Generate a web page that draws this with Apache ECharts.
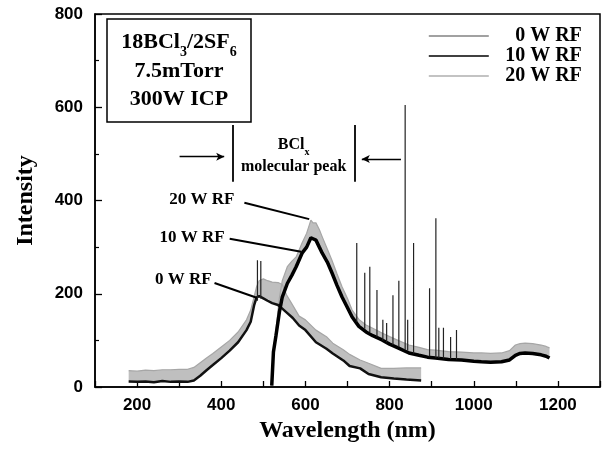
<!DOCTYPE html>
<html><head><meta charset="utf-8">
<script src="https://cdn.jsdelivr.net/npm/echarts@6/dist/echarts.min.js"></script>
<style>html,body{margin:0;padding:0;background:#fff}#c{width:603px;height:450px}</style>
</head><body><div id="c"></div>
<script>
// ---- data ----
const xTickLabels = [200, 400, 600, 800, 1000, 1200];
const yTickLabels = [0, 200, 400, 600, 800];
const legendNames = ['0 W RF', '10 W RF', '20 W RF'];

// first (short-wavelength) hump
const humpWl  = [180,200,220,240,260,280,300,320,335,350,365,380,400,420,440,460,470,478,484,490,500,510,521,535,545,555,570,585,600,625,650,665,690,705,730,750,780,810,840,875];
const humpLow = [12,11,12,10,13,11,12,11,14,24,36,47,62,78,96,122,140,175,192,195,190,185,180,176,168,160,148,132,122,96,82,72,57,45,40,28,21,18,16,14];
const humpTop = [35,34,36,35,37,37,38,38,42,52,62,72,86,100,118,144,165,193,215,228,232,228,225,224,220,198,175,152,144,122,108,94,80,70,58,51,40,40,41,41];
const humpLineWl   = [486, 494];
const humpLineBase = [185, 190];
const humpLinePeak = [272, 270];

// main BClx molecular band
const mainWl  = [520,524,530,538,545,557,568,578,592,603,613,618,625,633,640,652,663,675,687,700,711,727,744,760,782,800,820,846,870,890,909,940,971,1000,1018,1040,1066,1085,1099,1110,1122,1140,1160,1172,1180];
const mainLow = [3,75,110,160,193,222,240,258,287,300,320,318,315,300,287,268,245,218,193,170,150,130,118,110,101,92,84,73,68,64,62,59,58,55,54,53,54,58,68,72,73,72,69,66,62];
const mainTop = [3,78,122,190,228,258,270,279,309,330,358,352,352,338,322,296,272,243,215,190,165,145,133,126,116,108,100,90,85,80,79,76,75,73,73,72,73,78,90,93,94,93,90,87,84];

// atomic emission lines
const lineWl   = [722,741,753,770,784,793,808,822,837,843,857,895,910,917,928,945,959];
const lineBase = [140,125,118,108,100,96,90,86,80,78,72,66,63,62,61,60,59];
const linePeak = [309,245,258,208,144,137,197,228,605,144,309,212,362,127,127,107,122];

// ---- annotation layout (data-space anchors) ----
const notes = {
  bracket: [[427, 440, 427, 562], [718, 440, 718, 562]],
  arrows:  [[301, 494, 407, 494], [827, 489, 734, 489]],
  leaders: [[455, 395, 609, 360], [420, 318, 590, 290], [384, 223, 486, 191]],
  labels:  [['20 W RF', 431, 401], ['10 W RF', 408, 320], ['0 W RF', 377, 230]],
  bclx: [572, 519],
  molpeak: [572, 472]
};

const serif = "'Liberation Serif','Times New Roman',serif";
const sans = "'Liberation Sans',Arial,sans-serif";
const gray = '#bfbfbf';
const pair = (xs, ys) => xs.map((x, i) => [x, ys[i]]);
function spikes(wl, base, peak) {
  const out = [];
  wl.forEach((w, i) => { out.push([w, base[i]], [w, peak[i]], [w, base[i]], [w, null]); });
  return out;
}
function bandSeries(wl, lo, hi) {
  return {
    type: 'custom', name: 'band', silent: true, z: 2, clip: true,
    data: wl.map((w, i) => [w, lo[i], hi[i]]),
    encode: {x: 0, y: [1, 2]},
    renderItem: function (params, api) {
      if (params.dataIndex !== 0) return null;
      const pts = [];
      for (let i = 0; i < wl.length; i++) pts.push(api.coord([wl[i], hi[i]]));
      for (let i = wl.length - 1; i >= 0; i--) pts.push(api.coord([wl[i], lo[i]]));
      return {type: 'polygon', shape: {points: pts}, style: {fill: gray, stroke: null}};
    }
  };
}

const markData = [];
notes.bracket.forEach(b => markData.push([{coord: [b[0], b[1]]}, {coord: [b[2], b[3]]}]));
notes.leaders.forEach(b => markData.push([{coord: [b[0], b[1]], lineStyle: {width: 2}}, {coord: [b[2], b[3]]}]));
notes.arrows.forEach(b => markData.push([{coord: [b[0], b[1]], lineStyle: {width: 1.3}}, {coord: [b[2], b[3]], symbol: 'arrow', symbolSize: [6, 8]}]));

const chart = echarts.init(document.getElementById('c'), null, {renderer: 'canvas'});
chart.setOption({
  animation: false,
  backgroundColor: '#fff',
  grid: {left: 95, right: 1, top: 14, bottom: 63, show: true, borderColor: '#000', borderWidth: 1.5},
  legend: {
    orient: 'vertical', left: 423, top: 21, itemWidth: 60, itemHeight: 14, itemGap: 0,
    selectedMode: false,
    lineStyle: {width: 1.5},
    itemStyle: {opacity: 0},
    formatter: '{a|{name}}',
    textStyle: {rich: {a: {width: 88, align: 'right', fontSize: 20, fontWeight: 'bold', fontFamily: serif, color: '#000', lineHeight: 25}}},
    data: [
      {name: legendNames[0], lineStyle: {color: '#444', width: 1.2}, itemStyle: {opacity: 0}},
      {name: legendNames[1], lineStyle: {color: '#000', width: 1.6}, itemStyle: {opacity: 0}},
      {name: legendNames[2], lineStyle: {color: '#888', width: 1.2}, itemStyle: {opacity: 0}}
    ]
  },
  xAxis: {
    type: 'value', min: 100, max: 1300, interval: 100,
    name: 'Wavelength (nm)', nameLocation: 'middle', nameGap: 22,
    nameTextStyle: {fontFamily: serif, fontWeight: 'bold', fontSize: 24, color: '#000'},
    axisLine: {lineStyle: {color: '#000', width: 1.5}},
    axisTick: {inside: true, length: 6, lineStyle: {color: '#000', width: 1.3}},
    axisLabel: {margin: 10, fontFamily: sans, fontWeight: 'bold', fontSize: 17, color: '#000',
      formatter: v => xTickLabels.includes(v) ? String(v) : ''},
    splitLine: {show: false}
  },
  yAxis: {
    type: 'value', min: 0, max: 800, interval: 200,
    name: 'Intensity', nameLocation: 'middle', nameGap: 57,
    nameTextStyle: {fontFamily: serif, fontWeight: 'bold', fontSize: 24, color: '#000'},
    axisLine: {show: true, lineStyle: {color: '#000', width: 1.5}},
    axisTick: {inside: true, length: 7, lineStyle: {color: '#000', width: 1.3}},
    minorTick: {show: true, splitNumber: 2, length: 4, lineStyle: {color: '#000', width: 1.2}},
    axisLabel: {margin: 12, fontFamily: sans, fontWeight: 'bold', fontSize: 17, color: '#000',
      formatter: v => yTickLabels.includes(v) ? String(v) : ''},
    splitLine: {show: false}
  },
  series: [
    {name: legendNames[0], type: 'line', data: pair(humpWl, humpLow), symbol: 'none',
      itemStyle: {color: '#444'}, lineStyle: {color: '#111', width: 2.5}, z: 4},
    {name: legendNames[1], type: 'line', data: pair(mainWl, mainLow), symbol: 'none',
      itemStyle: {color: '#000'}, lineStyle: {color: '#000', width: 3.5}, z: 4},
    {name: legendNames[2], type: 'line', data: pair(humpWl, humpTop), symbol: 'none',
      itemStyle: {color: '#888'}, lineStyle: {color: '#a6a6a6', width: 1.2}, z: 3},
    {name: legendNames[2], type: 'line', data: pair(mainWl, mainTop), symbol: 'none',
      itemStyle: {color: '#888'}, lineStyle: {color: '#a6a6a6', width: 1.2}, z: 3},
    bandSeries(humpWl, humpLow, humpTop),
    bandSeries(mainWl, mainLow, mainTop),
    {name: legendNames[0], type: 'line', data: spikes(humpLineWl, humpLineBase, humpLinePeak), symbol: 'none',
      connectNulls: false, lineStyle: {color: '#222', width: 1.2}, z: 5},
    {name: legendNames[1], type: 'line', data: spikes(lineWl, lineBase, linePeak), symbol: 'none',
      connectNulls: false, lineStyle: {color: '#222', width: 1.2}, z: 5,
      markLine: {silent: true, symbol: ['none', 'none'], label: {show: false},
        lineStyle: {color: '#000', width: 1.8, type: 'solid'}, emphasis: {disabled: true},
        data: markData}}
  ]
});

const px = p => chart.convertToPixel({gridIndex: 0}, p);
const gfx = [];
gfx.push({type: 'rect', shape: {x: 107, y: 19, width: 144, height: 103},
  style: {fill: '#fff', stroke: '#000', lineWidth: 1.5}, z: 10});
gfx.push({type: 'text', x: 179, y: 71, z: 11, style: {
  text: '{n|18BCl}{s|3}{n|/2SF}{s|6}\n{n|7.5mTorr}\n{n|300W ICP}',
  align: 'center', verticalAlign: 'middle',
  rich: {
    n: {fontSize: 22, fontWeight: 'bold', fontFamily: serif, fill: '#000', lineHeight: 28.5},
    s: {fontSize: 14, fontWeight: 'bold', fontFamily: serif, fill: '#000', lineHeight: 28.5, padding: [20, 0, 0, 0]}
  }}});
const b1 = px(notes.bclx), b2 = px(notes.molpeak);
gfx.push({type: 'text', x: b1[0], y: b1[1], z: 11, style: {
  text: '{n|BCl}{s|x}', align: 'center', verticalAlign: 'middle',
  rich: {n: {fontSize: 16, fontWeight: 'bold', fontFamily: serif, fill: '#000', lineHeight: 20},
         s: {fontSize: 10, fontWeight: 'bold', fontFamily: serif, fill: '#000', lineHeight: 20, padding: [14, 0, 0, 0]}}}});
gfx.push({type: 'text', x: b2[0], y: b2[1], z: 11, style: {
  text: 'molecular peak', align: 'center', verticalAlign: 'middle',
  fontSize: 16, fontWeight: 'bold', fontFamily: serif, fill: '#000'}});
notes.labels.forEach(l => {
  const p = px([l[1], l[2]]);
  gfx.push({type: 'text', x: p[0], y: p[1], z: 11, style: {
    text: l[0], align: 'right', verticalAlign: 'middle',
    fontSize: 17, fontWeight: 'bold', fontFamily: serif, fill: '#000'}});
});
chart.setOption({graphic: gfx});
</script></body></html>
